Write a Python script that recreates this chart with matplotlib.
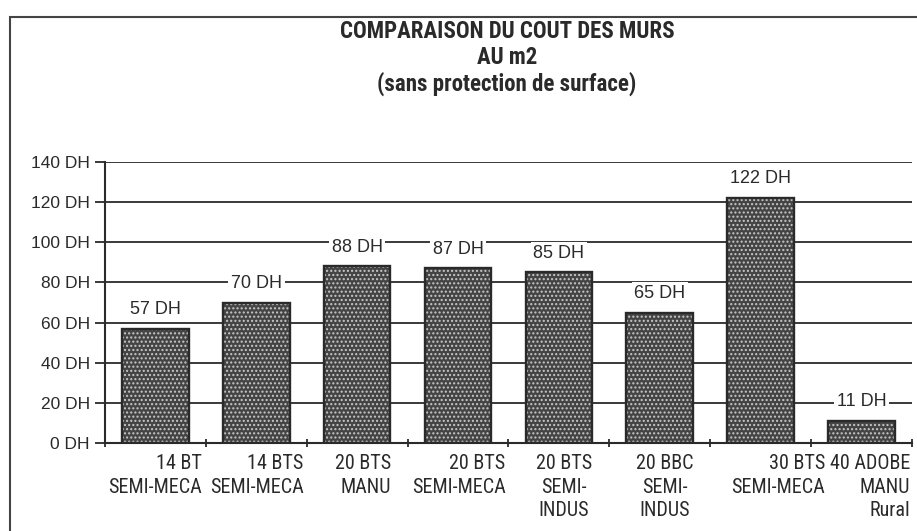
import matplotlib
matplotlib.use("Agg")
import matplotlib.pyplot as plt
from matplotlib.patches import Rectangle
import numpy as np

# cout au m2 (DH) pour chaque type de mur
categories = ["14 BT\nSEMI-MECA", "14 BTS\nSEMI-MECA", "20 BTS\nMANU",
              "20 BTS\nSEMI-MECA", "20 BTS\nSEMI-\nINDUS", "20 BBC\nSEMI-\nINDUS",
              "30 BTS\nSEMI-MECA", "40 ADOBE\nMANU\nRural"]
values = [57, 70, 88, 87, 85, 65, 122, 11]
yticks = [0, 20, 40, 60, 80, 100, 120, 140]

# placement des etiquettes sous l'axe (x en unites de categorie, alignement)
label_pos = [(0.96, "right"), (1.97, "right"), (2.84, "right"), (3.97, "right"),
             (4.55, "center"), (5.55, "center"), (7.14, "right"), (7.98, "right")]

cond = ['Roboto Condensed', 'DejaVu Sans']
plain = ['Liberation Sans', 'DejaVu Sans']
ink = "#2a2a2a"

fig = plt.figure(figsize=(9.17, 5.31), dpi=100)
ax = fig.add_axes([0.1145, 0.1657, 0.88, 0.529])

x = np.arange(len(values)) + 0.5
w = 0.66
ax.bar(x, values, width=w, color="#444444", edgecolor="none", zorder=3)
ax.bar(x, values, width=w, color="none", edgecolor="#c8c8c8", hatch="....",
       linewidth=0, zorder=4)
ax.bar(x, values, width=w, color="none", edgecolor=ink, linewidth=1.7, zorder=5)

for xi, v in zip(x, values):
    ax.annotate(f"{v} DH", (xi, v), xytext=(0, 14), textcoords="offset points",
                ha="center", va="center", fontsize=13, color=ink, zorder=6,
                family=plain,
                bbox=dict(boxstyle="square,pad=0.15", fc="white", ec="none"))

ax.set_xlim(0, 8)
ax.set_ylim(0, 140)
ax.set_yticks(yticks)
ax.set_yticklabels([f"{t} DH" for t in yticks], fontsize=12.5, color=ink,
                   family=plain)
ax.yaxis.grid(True, color=ink, linewidth=1.3)
ax.set_axisbelow(True)
ax.tick_params(axis="y", direction="out", length=7, width=1.3, color=ink, pad=4)

ax.set_xticks(np.arange(0, 9))
ax.set_xticklabels([])
ax.tick_params(axis="x", direction="inout", length=6, width=1.3, color=ink)

for (lx, ha), lab in zip(label_pos, categories):
    ax.text(lx, -5.5, lab, ha=ha, va="top", multialignment=ha, fontsize=14.5,
            color=ink, linespacing=1.3, family=cond)

for s in ["top", "right"]:
    ax.spines[s].set_visible(False)
for s in ["left", "bottom"]:
    ax.spines[s].set_color(ink)
    ax.spines[s].set_linewidth(1.5)

fig.text(0.553, 0.962, "COMPARAISON DU COUT DES MURS\nAU m2\n(sans protection de surface)",
         ha="center", va="top", fontsize=16.5, fontweight="bold", color=ink,
         linespacing=1.15, family=cond)

# cadre exterieur
fig.patches.append(Rectangle((10 / 917, -0.1), 1.2, 1 - 17 / 531 + 0.1,
                             transform=fig.transFigure, fill=False,
                             edgecolor="#444444", linewidth=1.5))

fig.savefig("out.png", dpi=100)
